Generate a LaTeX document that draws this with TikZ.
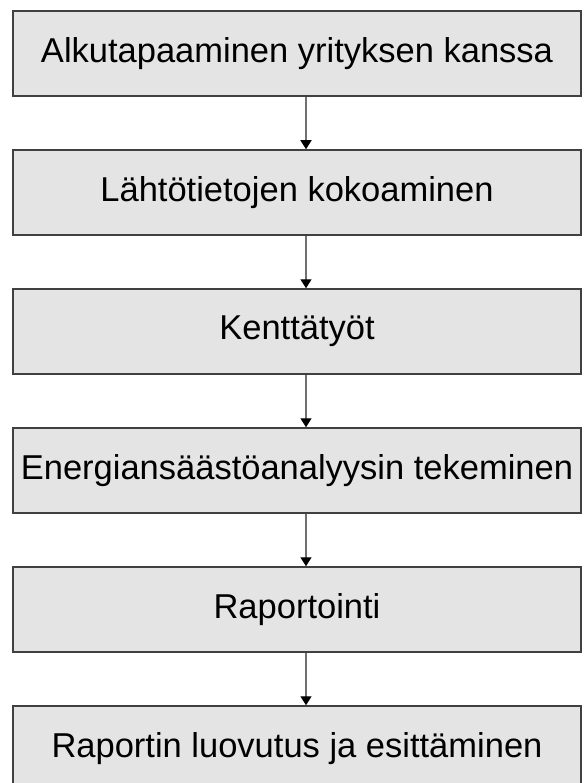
\documentclass[tikz,border=0pt]{standalone}
\usepackage{fontspec}
\setmainfont{Liberation Sans}
\usetikzlibrary{arrows.meta}

\definecolor{boxfill}{HTML}{E4E4E4}
\definecolor{boxline}{HTML}{404040}
\definecolor{flowline}{HTML}{707070}

\tikzset{
  stepbox/.style={draw=boxline, line width=1.5pt, fill=boxfill, minimum width=568pt,
    minimum height=85pt, inner sep=0pt, font=\fontsize{34.5}{38}\selectfont},
  flow/.style={draw=flowline, line width=1.4pt, -{Triangle[width=11pt,length=9pt,color=black]}}
}

\begin{document}
\begin{tikzpicture}[x=1pt, y=-1pt]
  \useasboundingbox (0,0) rectangle (586,783);

  %% Work phases
  \node[stepbox] (alku) at (297,53.5) {Alkutapaaminen yrityksen kanssa};
  \node[stepbox] (lahto) at (297,192.5) {Lähtötietojen kokoaminen};
  \node[stepbox] (kentta) at (297,331.5) {Kenttätyöt};
  \node[stepbox] (analyysi) at (297,470.5) {Energiansäästöanalyysin tekeminen};
  \node[stepbox] (raportti) at (297,609.5) {Raportointi};
  \node[stepbox] (luovutus) at (297,748.5) {Raportin luovutus ja esittäminen};

  %% Arrows between phases
  \draw[flow] ([xshift=9pt]alku.south) -- ([xshift=9pt]lahto.north);
  \draw[flow] ([xshift=9pt]lahto.south) -- ([xshift=9pt]kentta.north);
  \draw[flow] ([xshift=9pt]kentta.south) -- ([xshift=9pt]analyysi.north);
  \draw[flow] ([xshift=9pt]analyysi.south) -- ([xshift=9pt]raportti.north);
  \draw[flow] ([xshift=9pt]raportti.south) -- ([xshift=9pt]luovutus.north);
\end{tikzpicture}
\end{document}
